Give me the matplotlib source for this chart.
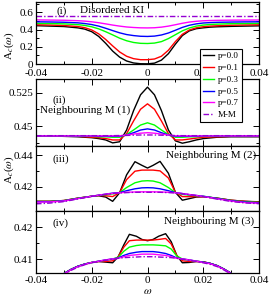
import numpy as np
import matplotlib.pyplot as plt
from matplotlib.ticker import MultipleLocator, FixedLocator, FixedFormatter

plt.rcParams['font.family'] = ['Liberation Serif', 'DejaVu Serif']
plt.rcParams['mathtext.fontset'] = 'stix'
plt.rcParams['axes.unicode_minus'] = False

# ----------------------
# Données
# ----------------------
labels = ['p=0.0', 'p=0.1', 'p=0.3', 'p=0.5', 'p=0.7', 'M-M']
colors = ['black', '#ff0000', '#00ff00', '#0000ff', '#ff00ff', '#9400d3']

xtick_vals = [-0.04, -0.02, 0, 0.02, 0.04]
xtick_labels = ['-0.04', '-0.02', '0', '0.02', '0.04']

# (i) Disordered KI
w1 = [-0.04, -0.035, -0.03, -0.025, -0.0225, -0.02, -0.0175, -0.015, -0.0125, -0.01, -0.0075, -0.005, -0.0025, 0,
      0.0025, 0.005, 0.0075, 0.01, 0.0125, 0.015, 0.0175, 0.02, 0.0225, 0.025, 0.03, 0.035, 0.04]
p1_00 = [0.445, 0.44, 0.435, 0.42, 0.405, 0.375, 0.32, 0.24, 0.15, 0.08, 0.035, 0.012, 0.003, 0.002,
         0.01, 0.045, 0.12, 0.23, 0.33, 0.385, 0.41, 0.42, 0.428, 0.432, 0.437, 0.44, 0.443]
p1_01 = [0.455, 0.452, 0.447, 0.435, 0.422, 0.395, 0.35, 0.285, 0.21, 0.14, 0.09, 0.062, 0.05, 0.05,
         0.058, 0.09, 0.16, 0.26, 0.345, 0.395, 0.42, 0.433, 0.44, 0.444, 0.45, 0.453, 0.455]
p1_03 = [0.472, 0.47, 0.466, 0.457, 0.448, 0.432, 0.408, 0.375, 0.338, 0.3, 0.27, 0.25, 0.24, 0.238,
         0.243, 0.26, 0.295, 0.34, 0.385, 0.418, 0.44, 0.452, 0.459, 0.463, 0.468, 0.47, 0.472]
p1_05 = [0.49, 0.488, 0.485, 0.478, 0.47, 0.458, 0.44, 0.415, 0.388, 0.362, 0.342, 0.33, 0.322, 0.32,
         0.324, 0.337, 0.36, 0.392, 0.425, 0.45, 0.466, 0.476, 0.481, 0.484, 0.487, 0.489, 0.49]
p1_07 = [0.512, 0.51, 0.508, 0.503, 0.498, 0.49, 0.479, 0.466, 0.452, 0.44, 0.43, 0.424, 0.42, 0.419,
         0.421, 0.428, 0.44, 0.456, 0.473, 0.487, 0.496, 0.502, 0.505, 0.507, 0.509, 0.51, 0.511]
w1_mm = [-0.04, 0.04]
p1_mm = [0.56, 0.56]

# (ii) Neighbouring M (1)
w2 = [-0.04, -0.03, -0.025, -0.02, -0.0175, -0.015, -0.0125, -0.01, -0.0075, -0.005, -0.0025, 0,
      0.0025, 0.005, 0.0075, 0.01, 0.0125, 0.015, 0.0175, 0.02, 0.025, 0.03, 0.04]
p2_00 = [0.429, 0.428, 0.427, 0.425, 0.423, 0.42, 0.4135, 0.416, 0.442, 0.485, 0.52, 0.537,
         0.52, 0.485, 0.442, 0.418, 0.4128, 0.416, 0.42, 0.423, 0.426, 0.427, 0.427]
p2_01 = [0.429, 0.428, 0.428, 0.426, 0.425, 0.423, 0.42, 0.42, 0.434, 0.462, 0.488, 0.5,
         0.488, 0.462, 0.434, 0.42, 0.42, 0.422, 0.424, 0.426, 0.427, 0.428, 0.428]
p2_03 = [0.429, 0.429, 0.428, 0.428, 0.427, 0.427, 0.426, 0.426, 0.432, 0.442, 0.453, 0.458,
         0.453, 0.442, 0.432, 0.426, 0.426, 0.427, 0.427, 0.428, 0.428, 0.429, 0.429]
p2_05 = [0.429, 0.429, 0.429, 0.429, 0.428, 0.428, 0.428, 0.428, 0.431, 0.436, 0.442, 0.4445,
         0.442, 0.436, 0.431, 0.428, 0.428, 0.428, 0.428, 0.429, 0.429, 0.429, 0.429]
p2_07 = [0.429, 0.429, 0.429, 0.429, 0.429, 0.429, 0.429, 0.429, 0.431, 0.433, 0.435, 0.436,
         0.435, 0.433, 0.431, 0.429, 0.429, 0.429, 0.429, 0.429, 0.429, 0.429, 0.429]
p2_mm = [0.4295, 0.4295, 0.4295, 0.4295, 0.4295, 0.4295, 0.4295, 0.4298, 0.430, 0.4305, 0.431, 0.431,
         0.431, 0.4305, 0.430, 0.4298, 0.4295, 0.4295, 0.4295, 0.4295, 0.4295, 0.4295, 0.4295]

# (iii) Neighbouring M (2)
w3 = [-0.04, -0.035, -0.03, -0.025, -0.02, -0.0175, -0.015, -0.0125, -0.01, -0.0075, -0.0045, -0.002, 0,
      0.002, 0.0045, 0.0075, 0.01, 0.0125, 0.015, 0.0175, 0.02, 0.025, 0.03, 0.035, 0.04]
p3_00 = [0.4108, 0.4108, 0.4113, 0.4128, 0.414, 0.4143, 0.4135, 0.4108, 0.4162, 0.4275, 0.4358, 0.4335, 0.4318,
         0.4335, 0.436, 0.4285, 0.4165, 0.4115, 0.4125, 0.4135, 0.4137, 0.4128, 0.4115, 0.4108, 0.4105]
p3_01 = [0.4108, 0.4108, 0.4113, 0.4128, 0.414, 0.4145, 0.4143, 0.4138, 0.4163, 0.4245, 0.4298, 0.4305, 0.4305,
         0.4305, 0.43, 0.4255, 0.4165, 0.4138, 0.4137, 0.4138, 0.4137, 0.4128, 0.4115, 0.4108, 0.4103]
p3_03 = [0.4107, 0.4107, 0.4112, 0.4127, 0.414, 0.4146, 0.415, 0.4155, 0.4163, 0.4195, 0.4225, 0.4236, 0.4238,
         0.4236, 0.4225, 0.4195, 0.4163, 0.4152, 0.4147, 0.4143, 0.414, 0.4127, 0.4113, 0.4105, 0.4101]
p3_05 = [0.4106, 0.4106, 0.4111, 0.4126, 0.414, 0.4147, 0.4153, 0.416, 0.4163, 0.4175, 0.4187, 0.4193, 0.4194,
         0.4193, 0.4187, 0.4175, 0.4163, 0.4157, 0.415, 0.4145, 0.414, 0.4126, 0.4112, 0.4103, 0.4099]
p3_07 = [0.4103, 0.4104, 0.411, 0.4125, 0.414, 0.4147, 0.4153, 0.4158, 0.4162, 0.4165, 0.4167, 0.4168, 0.4168,
         0.4168, 0.4167, 0.4165, 0.4162, 0.4157, 0.4151, 0.4145, 0.4139, 0.4124, 0.411, 0.41, 0.4096]
p3_mm = [0.4092, 0.4097, 0.4106, 0.4123, 0.4139, 0.4146, 0.4152, 0.4157, 0.4161, 0.4163, 0.4165, 0.4165, 0.4165,
         0.4165, 0.4165, 0.4163, 0.4161, 0.4156, 0.415, 0.4144, 0.4138, 0.4122, 0.4107, 0.4098, 0.4093]

# (iv) Neighbouring M (3)
w4 = [-0.04, -0.035, -0.03, -0.0275, -0.025, -0.0225, -0.02, -0.0175, -0.015, -0.0125, -0.0105, -0.0085,
      -0.0065, -0.004, -0.002, 0, 0.002, 0.004, 0.0065, 0.0085, 0.0105, 0.0125, 0.015, 0.0175, 0.02,
      0.0225, 0.025, 0.0275, 0.03, 0.035, 0.04]
p4_00 = [0.398, 0.402, 0.4055, 0.4068, 0.4078, 0.4085, 0.409, 0.4093, 0.4091, 0.4089, 0.4108, 0.4145,
         0.4178, 0.4172, 0.4162, 0.4158, 0.4162, 0.4172, 0.418, 0.4155, 0.4112, 0.4089, 0.409, 0.4093, 0.4092,
         0.4087, 0.408, 0.4069, 0.4056, 0.402, 0.398]
p4_01 = [0.398, 0.402, 0.4055, 0.4068, 0.4078, 0.4085, 0.409, 0.4093, 0.4093, 0.4095, 0.4108, 0.4138,
         0.4158, 0.416, 0.416, 0.416, 0.416, 0.4162, 0.4165, 0.4148, 0.4112, 0.4095, 0.4093, 0.4093, 0.4092,
         0.4087, 0.408, 0.4069, 0.4056, 0.402, 0.398]
p4_03 = [0.398, 0.402, 0.4055, 0.4068, 0.4078, 0.4085, 0.409, 0.4094, 0.4097, 0.4101, 0.4106, 0.4125,
         0.4138, 0.4143, 0.4145, 0.4145, 0.4145, 0.4144, 0.4142, 0.4132, 0.411, 0.4101, 0.4097, 0.4094, 0.4091,
         0.4087, 0.408, 0.4069, 0.4056, 0.402, 0.398]
p4_05 = [0.398, 0.402, 0.4055, 0.4068, 0.4078, 0.4085, 0.409, 0.4094, 0.4098, 0.4101, 0.4104, 0.4112,
         0.4118, 0.4122, 0.4124, 0.4124, 0.4124, 0.4122, 0.4118, 0.4112, 0.4104, 0.4101, 0.4098, 0.4094, 0.4091,
         0.4087, 0.408, 0.4069, 0.4056, 0.402, 0.398]
p4_07 = [0.398, 0.402, 0.4054, 0.4067, 0.4077, 0.4084, 0.409, 0.4094, 0.4098, 0.4101, 0.4103, 0.4108,
         0.4112, 0.4114, 0.4116, 0.4116, 0.4116, 0.4114, 0.4112, 0.4108, 0.4103, 0.4101, 0.4098, 0.4094, 0.409,
         0.4086, 0.4079, 0.4068, 0.4055, 0.402, 0.398]
p4_mm = [0.398, 0.4018, 0.4052, 0.4065, 0.4075, 0.4083, 0.4089, 0.4093, 0.4097, 0.41, 0.4103, 0.4105,
         0.4106, 0.4107, 0.4108, 0.4108, 0.4108, 0.4107, 0.4106, 0.4105, 0.4103, 0.41, 0.4097, 0.4093, 0.4089,
         0.4084, 0.4077, 0.4066, 0.4053, 0.4018, 0.398]

# ----------------------
# Figure
# ----------------------
W, H = 270, 297
fig = plt.figure(figsize=(W / 100, H / 100), dpi=100)


def box(x0, y0, x1, y1):
    return [x0 / W, 1 - y1 / H, (x1 - x0) / W, (y1 - y0) / H]


ax1 = fig.add_axes(box(36, 2, 259, 64))
ax2 = fig.add_axes(box(36, 79, 259, 146))
ax3 = fig.add_axes(box(36, 146, 259, 211))
ax4 = fig.add_axes(box(36, 211, 259, 273))

panels = [
    (ax1, w1, [p1_00, p1_01, p1_03, p1_05, p1_07], w1_mm, p1_mm),
    (ax2, w2, [p2_00, p2_01, p2_03, p2_05, p2_07], w2, p2_mm),
    (ax3, w3, [p3_00, p3_01, p3_03, p3_05, p3_07], w3, p3_mm),
    (ax4, w4, [p4_00, p4_01, p4_03, p4_05, p4_07], w4, p4_mm),
]

handles = []
for ax, w, curves, wmm, mm in panels:
    hs = []
    for ys, c in zip(curves, colors[:5]):
        h, = ax.plot(w, ys, color=c, lw=1.0)
        hs.append(h)
    h, = ax.plot(wmm, mm, color=colors[5], lw=1.0, dashes=(4, 1.5, 1, 1.5))
    hs.append(h)
    if not handles:
        handles = hs
    ax.set_xlim(-0.04, 0.04)
    ax.xaxis.set_major_locator(FixedLocator(xtick_vals))
    ax.xaxis.set_minor_locator(MultipleLocator(0.01))
    ax.tick_params(which='both', direction='in', top=True, right=True, labelsize=8, width=0.7, pad=2)
    ax.tick_params(which='major', length=4)
    ax.tick_params(which='minor', length=2)
    for s in ax.spines.values():
        s.set_linewidth(0.9)

for ax in (ax1, ax4):
    ax.xaxis.set_major_formatter(FixedFormatter(xtick_labels))
for ax in (ax2, ax3):
    ax.set_xticklabels([])
ax1.tick_params(axis='x', pad=3.5)

ax1.set_ylim(0, 0.72)
ax1.set_yticks([0, 0.2, 0.4, 0.6], ['0', '0.2', '0.4', '0.6'])
ax1.yaxis.set_minor_locator(MultipleLocator(0.1))

ax2.set_ylim(0.4066, 0.555)
ax2.set_yticks([0.45, 0.525], ['0.45', '0.525'])
ax2.yaxis.set_minor_locator(MultipleLocator(0.0375))

ax3.set_ylim(0.4047, 0.4457)
ax3.set_yticks([0.42, 0.44], ['0.42', '0.44'])
ax3.yaxis.set_minor_locator(MultipleLocator(0.01))

ax4.set_ylim(0.4057, 0.4251)
ax4.set_yticks([0.41, 0.42], ['0.41', '0.42'])
ax4.yaxis.set_minor_locator(MultipleLocator(0.005))

# annotations
ax1.text(0.094, 0.855, '(i)', transform=ax1.transAxes, fontsize=8, va='center')
ax1.text(0.197, 0.855, 'Disordered KI', transform=ax1.transAxes, fontsize=8, va='center')
ax2.text(0.072, 0.687, '(ii)', transform=ax2.transAxes, fontsize=8, va='center')
ax2.text(0.018, 0.537, 'Neighbouring M (1)', transform=ax2.transAxes, fontsize=8, va='center')
ax3.text(0.072, 0.80, '(iii)', transform=ax3.transAxes, fontsize=8, va='center')
ax3.text(0.985, 0.862, 'Neighbouring M (2)', transform=ax3.transAxes, fontsize=8, va='center', ha='right')
ax4.text(0.072, 0.806, '(iv)', transform=ax4.transAxes, fontsize=8, va='center')
ax4.text(0.978, 0.84, 'Neighbouring M (3)', transform=ax4.transAxes, fontsize=8, va='center', ha='right')

fig.text(9 / W, 1 - 46 / H, r'A$_c$($\omega$)', rotation=90, fontsize=8, ha='center', va='center')
fig.text(9 / W, 1 - 170 / H, r'A$_c$($\omega$)', rotation=90, fontsize=8, ha='center', va='center')
fig.text(148 / W, 1 - 291 / H, r'$\omega$', fontsize=8, ha='center', va='center')

leg = fig.legend(handles, labels, loc='upper left', bbox_to_anchor=(200 / W, 1 - 49 / H),
                 fontsize=6.5, frameon=True, fancybox=False, framealpha=1, edgecolor='black',
                 handlelength=1.2, handletextpad=0.45, labelspacing=0.38, borderpad=0.35,
                 borderaxespad=0)
leg.get_frame().set_linewidth(0.8)

fig.savefig('out.png', dpi=100)
